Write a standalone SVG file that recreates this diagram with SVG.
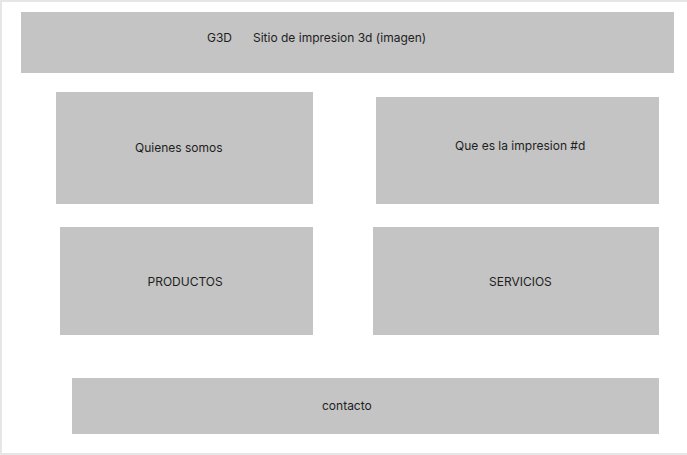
<svg xmlns="http://www.w3.org/2000/svg" width="687" height="455" viewBox="0 0 687 455">
<style>
.box{fill:#c4c4c4}
.lbl{font-family:Inter,"Noto Sans","Liberation Sans",sans-serif;font-size:12px;fill:#1e1e1e}
</style>
<rect x="0" y="0" width="687" height="455" fill="#e6e6e6"/>
<rect x="2" y="2" width="690" height="451" fill="#ffffff"/>
<g id="header">
<rect class="box" x="21" y="12" width="653" height="61"/>
<text class="lbl" x="207" y="42">G3D</text>
<text class="lbl" x="253" y="42">Sitio de impresion 3d (imagen)</text>
</g>
<g id="quienes">
<rect class="box" x="56" y="92" width="257" height="112"/>
<text class="lbl" x="135" y="152">Quienes somos</text>
</g>
<g id="quees">
<rect class="box" x="376" y="97" width="283" height="107"/>
<text class="lbl" x="455" y="150">Que es la impresion #d</text>
</g>
<g id="productos">
<rect class="box" x="60" y="227" width="253" height="108"/>
<text class="lbl" x="147.5" y="286">PRODUCTOS</text>
</g>
<g id="servicios">
<rect class="box" x="373" y="227" width="286" height="108"/>
<text class="lbl" x="489" y="286">SERVICIOS</text>
</g>
<g id="contacto">
<rect class="box" x="72" y="378" width="587" height="56"/>
<text class="lbl" x="322" y="410">contacto</text>
</g>
<g id="connectors"></g>
</svg>
